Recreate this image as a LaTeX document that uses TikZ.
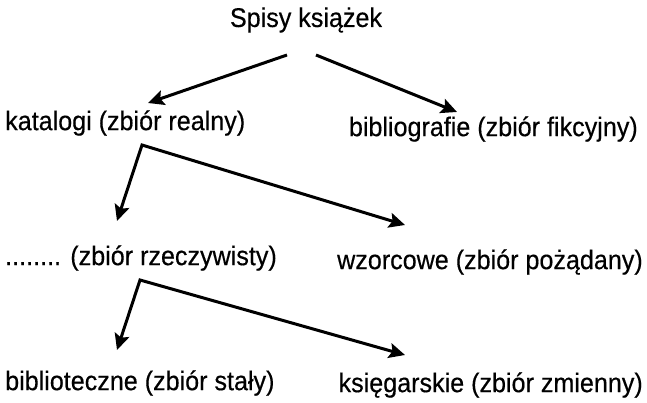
\documentclass[tikz,border=0pt]{standalone}
\usepackage{fontspec}
\setmainfont{Liberation Sans}[FakeStretch=0.93,FakeBold=0.4]
\usetikzlibrary{arrows.meta}
\begin{document}
\begin{tikzpicture}[x=1pt,y=-1pt,
  lbl/.style={inner sep=0pt,font=\fontsize{27}{32}\selectfont,anchor=west},
  tip/.tip={Stealth[length=16pt,width=15pt,inset=3pt]},
  arr/.style={line width=3pt,-tip},
  arrs/.style={line width=3pt,tip-tip,line join=miter}]
\useasboundingbox (0,0) rectangle (647,403);
\node[lbl,anchor=center] (root) at (306,20) {Spisy książek};
\node[lbl] (kat) at (5,123) {katalogi (zbiór realny)};
\node[lbl,anchor=east] (bib) at (638,129) {bibliografie (zbiór fikcyjny)};
\node[lbl] (rz) at (5,258) {........ (zbiór rzeczywisty)};
\node[lbl,anchor=east] (wz) at (643,262) {wzorcowe (zbiór pożądany)};
\node[lbl] (bt) at (5,383) {biblioteczne (zbiór stały)};
\node[lbl,anchor=east] (ks) at (643,385) {księgarskie (zbiór zmienny)};
\coordinate (s1) at (287,55);
\coordinate (s2) at (316,55);
\coordinate (t1) at (148,103);
\coordinate (t2) at (457,112);
\coordinate (c1) at (142,145);
\coordinate (t3) at (117,221);
\coordinate (t4) at (405,225);
\coordinate (c2) at (140,280);
\coordinate (t5) at (117,350);
\coordinate (t6) at (405,355);
\draw[arr] (s1) -- (t1);
\draw[arr] (s2) -- (t2);
\draw[arrs] (t3) -- (c1) -- (t4);
\draw[arrs] (t5) -- (c2) -- (t6);
\end{tikzpicture}
\end{document}
